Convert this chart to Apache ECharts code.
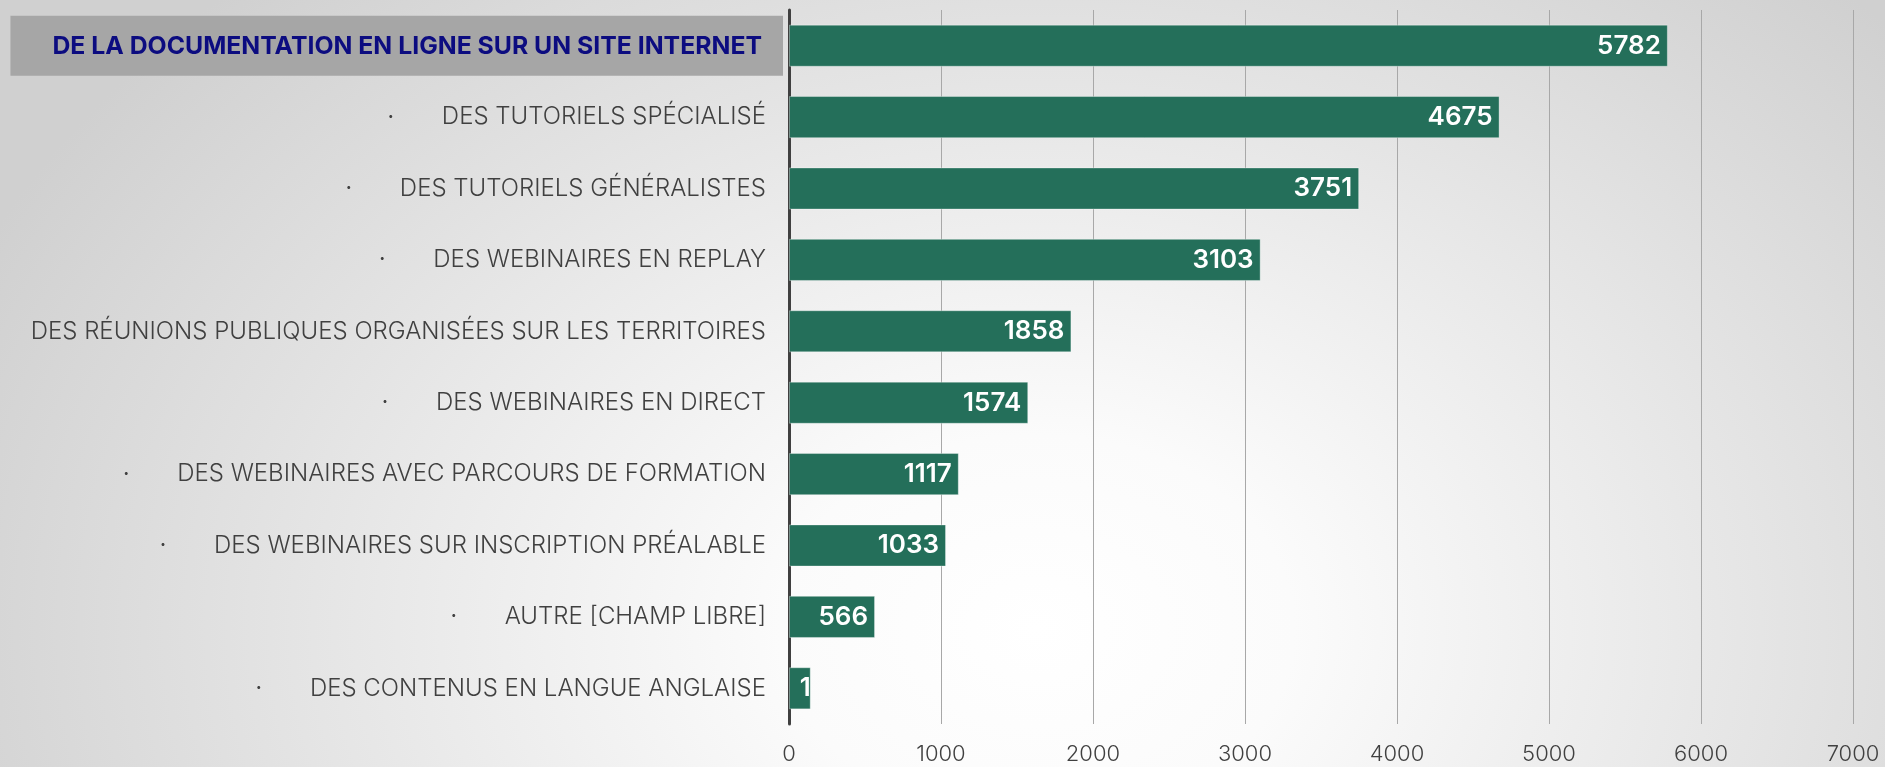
<!DOCTYPE html>
<html>
<head>
<meta charset="utf-8">
<script src="https://cdn.jsdelivr.net/npm/echarts@6/dist/echarts.min.js"></script>
<style>
  html, body { margin: 0; padding: 0; width: 1885px; height: 767px; overflow: hidden; }
  body { background: radial-gradient(ellipse 62% 115% at 55% 82%, #ffffff 0%, #fbfbfb 22%, #d0d0d0 100%); }
  #chart { width: 1885px; height: 767px; }
</style>
</head>
<body>
<div id="chart"></div>
<script>
// ---- data ----
const categories = [
  "DE LA DOCUMENTATION EN LIGNE SUR UN SITE INTERNET",
  "DES TUTORIELS SPÉCIALISÉ",
  "DES TUTORIELS GÉNÉRALISTES",
  "DES WEBINAIRES EN REPLAY",
  "DES RÉUNIONS PUBLIQUES ORGANISÉES SUR LES TERRITOIRES",
  "DES WEBINAIRES EN DIRECT",
  "DES WEBINAIRES AVEC PARCOURS DE FORMATION",
  "DES WEBINAIRES SUR INSCRIPTION PRÉALABLE",
  "AUTRE [CHAMP LIBRE]",
  "DES CONTENUS EN LANGUE ANGLAISE"
];
const values = [5782, 4675, 3751, 3103, 1858, 1574, 1117, 1033, 566, 143];
const bulleted = [false, true, true, true, false, true, true, true, true, true];
const highlighted = [true, false, false, false, false, false, false, false, false, false];
const xTicks = [0, 1000, 2000, 3000, 4000, 5000, 6000, 7000];

// ---- chart ----
const FONT = 'Inter, Lato, "Noto Sans", sans-serif';
const chart = echarts.init(document.getElementById('chart'), null, { renderer: 'canvas' });

const labelTexts = categories.map((c, i) => {
  if (highlighted[i]) return '{h|' + c + '}';
  return (bulleted[i] ? '{d|·}' : '') + '{n|' + c + '}';
});

const seriesData = values.map(v => {
  const item = { value: v };
  if (v < 300) {
    item.label = { width: 17, overflow: 'truncate', ellipsis: '', distance: 0 };
  }
  return item;
});

chart.setOption({
  backgroundColor: 'transparent',
  animation: false,
  grid: { left: 789, right: 32, top: 10, bottom: 43, containLabel: false },
  xAxis: {
    type: 'value',
    min: xTicks[0],
    max: xTicks[xTicks.length - 1],
    interval: xTicks[1] - xTicks[0],
    axisLine: { show: false },
    axisTick: { show: false },
    splitLine: { show: true, lineStyle: { color: '#a8a8a8', width: 1 } },
    axisLabel: {
      margin: 19,
      color: '#404040',
      fontFamily: FONT,
      fontWeight: 300,
      fontSize: 22,
      formatter: v => String(v)
    }
  },
  yAxis: {
    type: 'category',
    inverse: true,
    data: categories,
    axisLine: { show: true, lineStyle: { color: '#404040', width: 3 } },
    axisTick: { show: false },
    splitLine: { show: false },
    axisLabel: {
      margin: 6,
      interval: 0,
      formatter: (val, idx) => labelTexts[idx],
      rich: {
        n: {
          color: '#404040', fontFamily: FONT, fontWeight: 300, fontSize: 24,
          padding: [0, 17, 0, 0]
        },
        d: {
          color: '#404040', fontFamily: FONT, fontWeight: 700, fontSize: 18,
          padding: [0, 48, 0, 0]
        },
        h: {
          color: '#0c0c80', fontFamily: FONT, fontWeight: 700, fontSize: 24.8,
          lineHeight: 26,
          backgroundColor: '#a6a6a6',
          padding: [18, 21, 17, 42]
        }
      }
    }
  },
  series: [{
    type: 'bar',
    data: seriesData,
    barCategoryGap: '41%',
    itemStyle: { color: '#246f5a', borderColor: 'rgba(255,255,255,0.35)', borderWidth: 1 },
    label: {
      show: true,
      position: 'insideRight',
      distance: 7,
      color: '#ffffff',
      fontFamily: FONT,
      fontWeight: 600,
      fontSize: 26
    }
  }]
});
</script>
</body>
</html>
